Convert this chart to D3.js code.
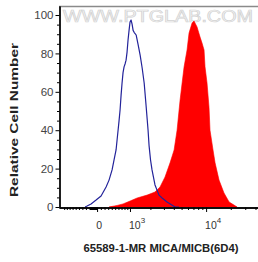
<!DOCTYPE html>
<html>
<head>
<meta charset="utf-8">
<script src="https://cdn.jsdelivr.net/npm/d3@7"></script>
<style>
  html, body { margin: 0; padding: 0; background: #fff; }
  svg { display: block; }
  text { font-family: "Liberation Sans", Arial, sans-serif; }
</style>
</head>
<body>
<svg id="chart" width="258" height="262"></svg>
<script>
// ---- data ----
const controlX = [-323, -268, -160, -26, 106, 241, 323, 409, 467, 527, 558, 589, 620, 652, 684, 717, 750, 785, 819, 855, 891, 927, 965, 1003, 1042, 1083, 1125, 1167, 1254, 1345, 1440, 1538, 1642, 1744, 1859, 1918, 2008, 2102, 2302, 2599, 2845, 3290, 4150, 4650];
const controlY = [0, 0.5, 1.6, 3.6, 5.7, 10.4, 14, 19.3, 24.5, 29.7, 34.9, 40, 45, 50.5, 58, 64.6, 70, 73, 74.5, 76.5, 80.7, 87, 92, 96.4, 97.4, 95.3, 92, 91, 89.6, 84.4, 79, 72.4, 64.6, 53, 40, 32, 24.5, 19.3, 11.5, 6.2, 4.7, 2.6, 0, 0];
const sampleX = [323, 558, 750, 1003, 1298, 1804, 2302, 2676, 3100, 3590, 4035, 4394, 4791, 5075, 5368, 5840, 6180, 6729, 7116, 7322, 7749, 8440, 8920, 9440, 9705, 10263, 10855, 11166, 12150, 12870, 14390, 16540, 19090, 21920, 23860];
const sampleY = [0, 0.8, 1.6, 3.1, 4.7, 6.2, 7.8, 10.4, 15.6, 23, 29.7, 40, 55.7, 64.6, 73, 81.8, 90.6, 95.8, 96.9, 95.8, 93.8, 88.5, 85.4, 81.8, 73, 64.6, 52, 40, 29.7, 23, 14, 7.3, 2.6, 1, 0];

const xMajorTicks = [0, 1000, 10000];
const xMajorLabels = [["0", ""], ["10", "3"], ["10", "4"]];
const xMinorTicks = [-1000, -900, -800, -700, -600, -500, -400, -300, -200, -190, -180, -170, -160, -150, -140, -130, -120, -110, -100, -90, -80, -70, -60, -50, -40, -30, -20, -10,
  100, 200, 300, 400, 500, 600, 700, 800, 900,
  2000, 3000, 4000, 5000, 6000, 7000, 8000, 9000,
  20000, 30000, 40000];
const yMajorTicks = [0, 20, 40, 60, 80, 100];
const yMinorTicks = [5, 10, 15, 25, 30, 35, 45, 50, 55, 65, 70, 75, 85, 90, 95];
const xDomain = [-1210, 42900];
const yDomain = [0, 104.7];
const watermark = "WWW.PTGLAB.COM";
const xTitle = "65589-1-MR MICA/MICB(6D4)";
const yTitle = "Relative Cell Number";

// ---- scales ----
const W = 945; // biexponential (asinh) width parameter
const tr = v => Math.asinh(v / W);
const plotL = 59, plotR = 258, plotB = 207, plotT = 6;
const xLin = d3.scaleLinear().domain(xDomain.map(tr)).range([plotL, plotR]);
const fx = v => xLin(tr(v));
const y = d3.scaleLinear().domain(yDomain).range([plotB, plotT]);

const svg = d3.select("#chart");

// watermark
svg.append("text")
  .attr("x", 63).attr("y", 22)
  .attr("textLength", 190).attr("lengthAdjust", "spacingAndGlyphs")
  .attr("font-size", 16)
  .attr("fill", "#f6f6f6").attr("stroke", "#d2d2d2").attr("stroke-width", 0.7)
  .text(watermark);

// sample (filled red)
const area = d3.area()
  .x((d, i) => fx(sampleX[i]))
  .y0(y(0))
  .y1((d, i) => y(sampleY[i]))
  .curve(d3.curveLinear);
svg.append("path")
  .datum(sampleX)
  .attr("d", area)
  .attr("fill", "#ff0000")
  .attr("stroke", "#ff0000").attr("stroke-width", 0.6);

// control (blue line)
const line = d3.line()
  .x((d, i) => fx(controlX[i]))
  .y((d, i) => y(controlY[i]));
svg.append("path")
  .datum(controlX)
  .attr("d", line)
  .attr("fill", "none")
  .attr("stroke", "#23239a").attr("stroke-width", 1.2)
  .attr("stroke-linejoin", "round");

// top border
svg.append("line")
  .attr("x1", plotL).attr("x2", plotR)
  .attr("y1", y(yDomain[1]) + 0.5).attr("y2", y(yDomain[1]) + 0.5)
  .attr("stroke", "#8a8a8a").attr("stroke-width", 1.3);

// x axis
const xAxisMinor = d3.axisBottom(xLin)
  .tickValues(xMinorTicks.map(tr))
  .tickSize(2.5).tickFormat("").tickSizeOuter(0);
const xAxisMajor = d3.axisBottom(xLin)
  .tickValues(xMajorTicks.map(tr))
  .tickSize(4.5).tickFormat("").tickSizeOuter(0);
const gxm = svg.append("g").attr("transform", `translate(0,${plotB + 0.5})`).call(xAxisMinor);
const gxM = svg.append("g").attr("transform", `translate(0,${plotB + 0.5})`).call(xAxisMajor);
[gxm, gxM].forEach(g => {
  g.select(".domain").attr("stroke", "#000").attr("stroke-width", 1.3);
  g.selectAll(".tick line").attr("stroke", "#000").attr("stroke-width", 1);
});

// x tick labels
const xl = svg.append("g").attr("font-size", 10.5).attr("fill", "#333");
xMajorTicks.forEach((v, i) => {
  const t = xl.append("text")
    .attr("x", fx(v) + (i === 0 ? 2 : -1))
    .attr("y", 229)
    .attr("text-anchor", i === 0 ? "middle" : "start");
  t.append("tspan").text(xMajorLabels[i][0]);
  if (xMajorLabels[i][1]) {
    t.append("tspan").attr("dy", -6).attr("font-size", 8).text(xMajorLabels[i][1]);
  }
});

// y axis
const yAxisMinor = d3.axisLeft(y).tickValues(yMinorTicks).tickSize(2.5).tickFormat("").tickSizeOuter(0);
const yAxisMajor = d3.axisLeft(y).tickValues(yMajorTicks).tickSize(4).tickFormat(d3.format("d")).tickSizeOuter(0).tickPadding(2);
const gym = svg.append("g").attr("transform", `translate(${plotL + 0.5},0)`).call(yAxisMinor);
const gyM = svg.append("g").attr("transform", `translate(${plotL + 0.5},0)`).call(yAxisMajor);
[gym, gyM].forEach(g => {
  g.select(".domain").attr("stroke", "#000").attr("stroke-width", 1.3);
  g.selectAll(".tick line").attr("stroke", "#000").attr("stroke-width", 1);
});
gyM.selectAll(".tick text")
  .attr("font-family", "'Liberation Sans', Arial, sans-serif")
  .attr("font-size", 11.5).attr("fill", "#444");

// axis titles
svg.append("text")
  .attr("x", 161).attr("y", 252)
  .attr("text-anchor", "middle")
  .attr("font-size", 11.3).attr("font-weight", "bold").attr("fill", "#222")
  .text(xTitle);
svg.append("text")
  .attr("transform", "translate(18,120) rotate(-90)")
  .attr("text-anchor", "middle")
  .attr("textLength", 154).attr("lengthAdjust", "spacingAndGlyphs")
  .attr("font-size", 11.5).attr("font-weight", "bold").attr("fill", "#222")
  .text(yTitle);
</script>
</body>
</html>
